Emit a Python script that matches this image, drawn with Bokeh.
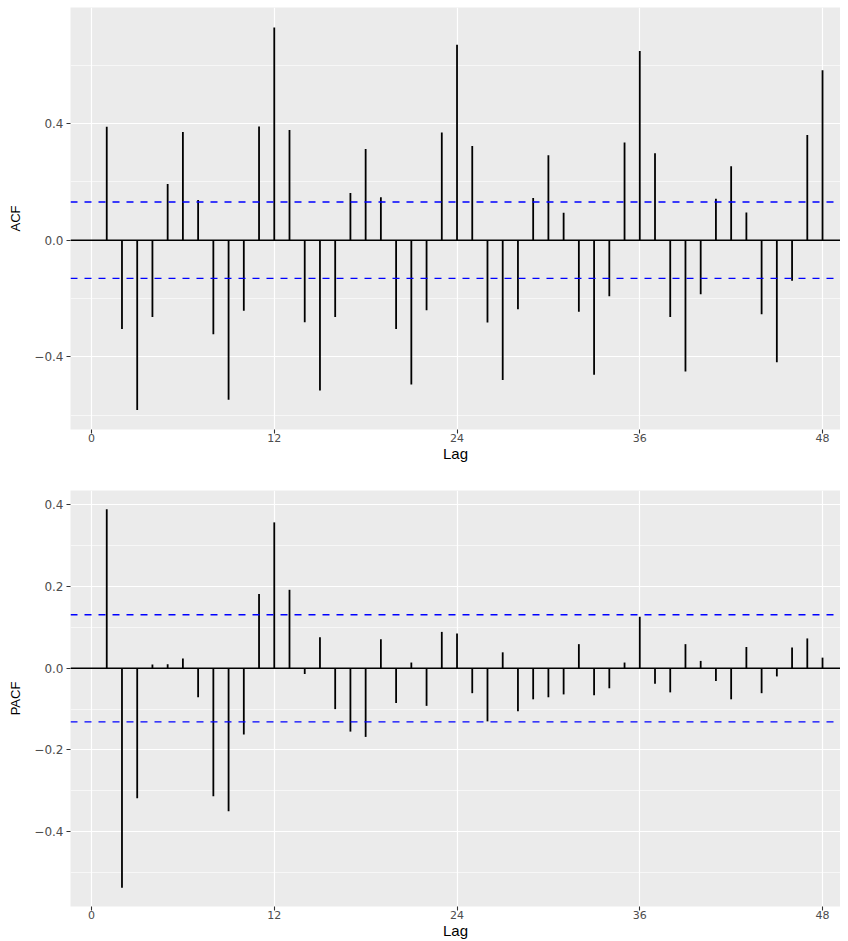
from bokeh.plotting import figure
from bokeh.layouts import column
from bokeh.models import Range1d, FixedTicker, Span, ColumnDataSource
from bokeh.embed import file_html
from bokeh.resources import INLINE

# ---- data ----
lags = list(range(1, 49))
acf_values = [0.389, -0.304, -0.582, -0.263, 0.193, 0.371, 0.138, -0.322, -0.547, -0.242,
              0.390, 0.729, 0.378, -0.281, -0.515, -0.263, 0.162, 0.313, 0.147, -0.304,
              -0.495, -0.240, 0.369, 0.670, 0.323, -0.282, -0.479, -0.237, 0.145, 0.291,
              0.094, -0.245, -0.461, -0.192, 0.335, 0.649, 0.298, -0.263, -0.450, -0.185,
              0.142, 0.254, 0.095, -0.254, -0.418, -0.139, 0.361, 0.583]
pacf_values = [0.389, -0.537, -0.318, 0.009, 0.010, 0.024, -0.071, -0.313, -0.350, -0.162,
               0.182, 0.357, 0.192, -0.014, 0.076, -0.100, -0.155, -0.168, 0.071, -0.085,
               0.014, -0.092, 0.089, 0.085, -0.061, -0.130, 0.039, -0.105, -0.076, -0.071,
               -0.064, 0.059, -0.066, -0.049, 0.014, 0.126, -0.038, -0.059, 0.059, 0.018,
               -0.031, -0.076, 0.052, -0.061, -0.020, 0.051, 0.073, 0.026]
conf_limit = 0.131

x_ticks = [0, 12, 24, 36, 48]
x_tick_labels = ["0", "12", "24", "36", "48"]
acf_ticks = [-0.4, 0.0, 0.4]
acf_tick_labels = ["\u22120.4", "0.0", "0.4"]
acf_minor = [-0.6, -0.2, 0.2, 0.6]
pacf_ticks = [-0.4, -0.2, 0.0, 0.2, 0.4]
pacf_tick_labels = ["\u22120.4", "\u22120.2", "0.0", "0.2", "0.4"]
pacf_minor = [-0.5, -0.3, -0.1, 0.1, 0.3]

TICK_FONT = "DejaVu Sans"
TITLE_FONT = "Liberation Sans"


def make_panel(values, ylab, y_range, ticks, tick_labels, minor, height, top, bottom):
    p = figure(width=840, height=height, output_backend="svg", toolbar_location=None,
               x_range=Range1d(-1.38, 49.18), y_range=Range1d(*y_range),
               min_border_left=70, min_border_right=0,
               min_border_top=top, min_border_bottom=bottom)
    p.outline_line_color = None
    p.background_fill_color = "#EBEBEB"
    p.border_fill_color = "white"

    p.xaxis.ticker = FixedTicker(ticks=x_ticks, minor_ticks=[])
    p.xaxis.major_label_overrides = {t: s for t, s in zip(x_ticks, x_tick_labels)}
    p.yaxis.ticker = FixedTicker(ticks=ticks, minor_ticks=minor)
    p.yaxis.major_label_overrides = {t: s for t, s in zip(ticks, tick_labels)}

    for ax in (p.xaxis, p.yaxis):
        ax.axis_line_color = None
        ax.major_tick_line_color = "#333333"
        ax.major_tick_line_width = 1.1
        ax.major_tick_out = 4
        ax.major_tick_in = 0
        ax.minor_tick_line_color = None
        ax.major_label_text_font = TICK_FONT
        ax.major_label_text_font_size = "12px"
        ax.major_label_text_color = "#4D4D4D"
        ax.axis_label_text_font = TITLE_FONT
        ax.axis_label_text_font_style = "normal"
        ax.axis_label_text_color = "black"
    p.xaxis.axis_label = "Lag"
    p.xaxis.axis_label_text_font_size = "15px"
    p.xaxis.major_label_text_font_size = "11px"
    p.xaxis.major_label_standoff = 0
    p.xaxis.axis_label_standoff = 0
    p.yaxis.axis_label = ylab
    p.yaxis.axis_label_text_font_size = "13px"
    p.yaxis.major_label_standoff = 3
    p.yaxis.axis_label_standoff = 8

    p.xgrid.grid_line_color = "white"
    p.xgrid.grid_line_width = 1.2
    p.xgrid.ticker = FixedTicker(ticks=x_ticks, minor_ticks=[])
    p.ygrid.grid_line_color = "white"
    p.ygrid.grid_line_width = 1.2
    p.ygrid.minor_grid_line_color = "white"
    p.ygrid.minor_grid_line_width = 0.6

    p.add_layout(Span(location=0, dimension="width", line_color="black", line_width=1.3))
    for lim in (conf_limit, -conf_limit):
        p.add_layout(Span(location=lim, dimension="width", line_color="blue",
                          line_width=1.3, line_dash="7 7"))

    src = ColumnDataSource(dict(lag=lags, val=values, base=[0.0] * len(lags)))
    p.segment(x0="lag", y0="base", x1="lag", y1="val", source=src,
              line_color="black", line_width=1.8)
    return p


p1 = make_panel(acf_values, "ACF", (-0.649, 0.798), acf_ticks, acf_tick_labels,
                acf_minor, 470, 7, 41)
p2 = make_panel(pacf_values, "PACF", (-0.583, 0.435), pacf_ticks, pacf_tick_labels,
                pacf_minor, 471, 20, 29)

layout = column(p1, p2)
open("out.html", "w").write(file_html(layout, INLINE))
